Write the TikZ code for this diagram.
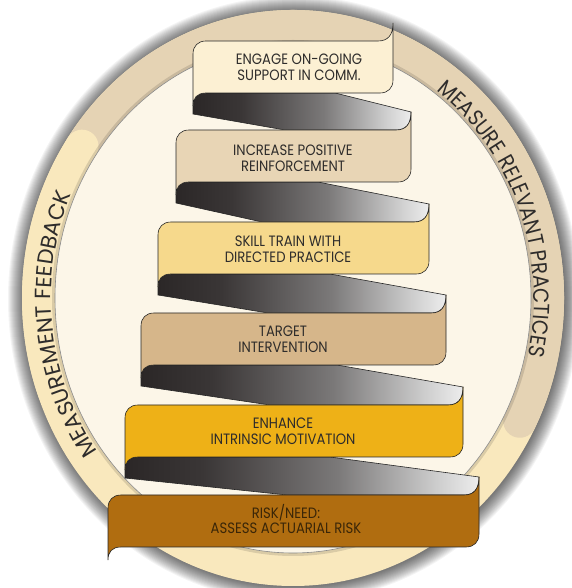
\documentclass[tikz,border=0pt]{standalone}
\usepackage{fontspec}
\newfontfamily\pfont[FakeStretch=0.88]{Poppins}
\newfontfamily\ringfontL[FakeStretch=1.0]{Poppins}
\newfontfamily\ringfontR[FakeStretch=0.9]{Poppins}
\usetikzlibrary{decorations.text}
\definecolor{ringtan}{HTML}{E5D3B4}
\definecolor{ringlight}{HTML}{F9E8BD}
\definecolor{cream}{HTML}{FCF6E8}
\definecolor{c1}{HTML}{FCF0D3}
\definecolor{c2}{HTML}{E8D5B5}
\definecolor{c3}{HTML}{F6D98C}
\definecolor{c4}{HTML}{D6B68A}
\definecolor{c5}{HTML}{EEB117}
\definecolor{c6}{HTML}{B06D10}
\definecolor{txt}{HTML}{2E2C2B}
\definecolor{txtrisk}{HTML}{3A2608}
\definecolor{fd0}{HTML}{2B2727}
\definecolor{fd1}{HTML}{3A3636}
\definecolor{fd2}{HTML}{7B7979}
\definecolor{fd3}{HTML}{CDCDCD}
\definecolor{fd4}{HTML}{EDEDED}
\pgfdeclarehorizontalshading{foldshade}{100bp}{color(0bp)=(fd0); color(25bp)=(fd0); color(36bp)=(fd1); color(55bp)=(fd2); color(69bp)=(fd3); color(75bp)=(fd4); color(100bp)=(fd4)}
\tikzset{
  outline/.style={draw=black!85, line width=0.6pt},
  label/.style={font=\pfont\fontsize{15}{15.7}\selectfont, align=center, inner sep=0pt, text=txt},
}
% panel: name, L, R, T, B, colour
\newcommand\panel[6]{%
  \draw[outline, fill=#6] ({#2},{#4+13}) .. controls ({#2},{#4+5}) and ({#2+5},{#4}) .. ({#2+13},{#4})
    -- ({#3-15},{#4}) .. controls ({#3-5},{#4}) and ({#3},{#4-6}) .. ({#3},{#4-18})
    -- ({#3},{#5-13}) .. controls ({#3},{#5-5}) and ({#3-5},{#5}) .. ({#3-13},{#5})
    -- ({#2+13},{#5}) .. controls ({#2+4},{#5}) and ({#2},{#5+5}) .. ({#2},{#5+13}) -- cycle;
  \coordinate (#1) at ({(#2+#3)/2},{(#4+#5)/2});}
% fold: L1, B1, xb, R2, T2, xc
\newcommand\fold[6]{%
  \draw[outline, shading=foldshade] ({#1},{#2+13}) .. controls ({#1},{#2+5}) and ({#1+4},{#2}) .. ({#1+13},{#2})
    -- ({#3},{#2}) -- ({#4},{#5-18}) .. controls ({#4},{#5-6}) and ({#4-5},{#5}) .. ({#4-15},{#5})
    -- ({#6},{#5}) -- ({#1},{#2+21}) -- cycle;}
\begin{document}
\begin{tikzpicture}[x=1pt,y=1pt]
\useasboundingbox (0,0) rectangle (571,588);
\fill[white] (0,0) rectangle (571,588);
% soft shadow round the ring
\foreach \i in {1,...,16} {
  \fill[black, opacity=0.045] (294,289) ellipse [x radius={270+\i}, y radius={287+\i}];
}
% ring
\fill[ringlight] (293,290) ellipse [x radius=271, y radius=288];
\draw[ringtan, line width=33pt, line cap=round] (293,290) ++(-27:254.5 and 271.5)
  arc[start angle=-27, end angle=146, x radius=254.5, y radius=271.5];
\draw[ringlight, line width=33pt, line cap=round] (293,290) ++(146:254.5 and 271.5)
  arc[start angle=146, end angle=200, x radius=254.5, y radius=271.5];
\fill[cream] (293,290) ellipse [x radius=238, y radius=255];
\draw[black, opacity=0.12, line width=3pt] (293,290) ellipse [x radius=239.5, y radius=256.5];
\draw[black!45, line width=0.6pt] (293,290) ellipse [x radius=238, y radius=255];
% ring texts
\path[decorate, decoration={text along path, text align=center,
   text={|\ringfontL\fontsize{22}{22}\selectfont\color{txt}|MEASUREMENT FEEDBACK}}]
  (293,290) ++(240:242 and 259) arc[start angle=240, end angle=133, x radius=242, y radius=259];
\path[decorate, decoration={text along path, text align=center,
   text={|\ringfontR\fontsize{22}{22}\selectfont\color{txt}|MEASURE RELEVANT PRACTICES}}]
  (293,290) ++(90:241 and 258) arc[start angle=90, end angle=-48, x radius=241, y radius=258];
% staircase ribbon (pixel coordinates, y downwards)
\begin{scope}[shift={(0,588)}, y=-1pt]
  \fold{193}{93}{335}{411}{130}{285}
  \fold{176}{182}{318}{429}{222}{262}
  \fold{158}{274}{330}{446}{313}{268}
  \fold{141}{365}{337}{463}{405}{270}
  \fold{125}{457}{330}{479}{495}{287}
  \panel{p1}{193}{393}{41}{93}{c1}
  \panel{p2}{176}{411}{130}{182}{c2}
  \panel{p3}{158}{429}{222}{274}{c3}
  \panel{p4}{141}{446}{313}{365}{c4}
  \panel{p5}{125}{463}{405}{457}{c5}
  \panel{p6}{108}{479}{495}{547}{c6}
  \node[label] (t1) at (299,67) {ENGAGE ON-GOING\\SUPPORT IN COMM.};
  \node[label] (t2) at (293,158) {INCREASE POSITIVE\\REINFORCEMENT};
  \node[label] (t3) at (288,249.5) {SKILL TRAIN WITH\\DIRECTED PRACTICE};
  \node[label] (t4) at (283,339.5) {TARGET\\INTERVENTION};
  \node[label] (t5) at (283,431.5) {ENHANCE\\INTRINSIC MOTIVATION};
  \node[label, text=txtrisk] (t6) at (286,519) {RISK/NEED:\\ASSESS ACTUARIAL RISK};
\end{scope}
\end{tikzpicture}
\end{document}
